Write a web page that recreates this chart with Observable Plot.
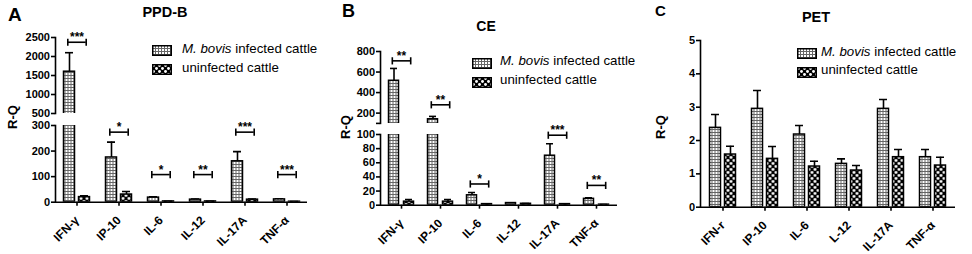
<!DOCTYPE html>
<html><head><meta charset="utf-8">
<script src="https://cdn.jsdelivr.net/npm/d3@7"></script>
<script src="https://cdn.jsdelivr.net/npm/@observablehq/plot@0.6"></script>
<style>
body{margin:0;background:#fff;font-family:"Liberation Sans",Arial,sans-serif;}
#root{position:relative;width:972px;height:254px;overflow:hidden;background:#fff;color:#000;}
.abs{position:absolute;white-space:nowrap;line-height:1;}
</style></head><body>
<svg width="0" height="0" style="position:absolute">
<defs>
<pattern id="patInf" width="3" height="3" patternUnits="userSpaceOnUse">
<rect width="3" height="3" fill="#666"/><rect x="1" y="1" width="2" height="2" fill="#fff"/>
</pattern>
<pattern id="patUn" width="6" height="6" patternUnits="userSpaceOnUse">
<rect width="6" height="6" fill="#000"/><circle cx="1.5" cy="1.5" r="1.45" fill="#fff"/><circle cx="4.5" cy="4.5" r="1.45" fill="#fff"/>
</pattern>
</defs></svg>
<div id="root"></div>
<script>
// ---------- data ----------
const seriesNames = ["M. bovis infected cattle", "uninfected cattle"];
const categoriesAB = ["IFN-γ", "IP-10", "IL-6", "IL-12", "IL-17A", "TNF-α"];
const categoriesC = ["IFN-r", "IP-10", "IL-6", "L-12", "IL-17A", "TNF-α"];

// Panel A: PPD-B
const infectedA = [1600, 175, 18, 10, 160, 11];
const infectedErrA = [500, 60, 3, 2, 38, 2];
const uninfectedA = [20, 30, 3, 3, 10, 2];
const uninfectedErrA = [5, 12, 1, 1, 2, 0.5];
const sigA = ["***", "*", "*", "**", "***", "***"];
const sigYA = [2375, 274, 108, 108, 274, 108];
const ticksATop = [500, 1000, 1500, 2000, 2500];
const ticksABottom = [0, 100, 200, 300];

// Panel B: CE
const infectedB = [515, 140, 14, 3, 70, 9];
const infectedErrB = [120, 28, 4, 0.5, 17, 1.5];
const uninfectedB = [5, 5, 1.5, 2, 1.5, 0.8];
const uninfectedErrB = [3, 3, 0.3, 0.3, 0.4, 0.2];
const sigB = ["**", "**", "*", "", "***", "**"];
const sigYB = [709, 281, 30, null, 99, 28];
const ticksBTop = [100, 200, 400, 600, 800];
const ticksBBottom = [0, 20, 40, 60, 80, 100];

// Panel C: PET
const infectedC = [2.38, 2.95, 2.18, 1.3, 2.95, 1.5];
const infectedErrC = [0.4, 0.55, 0.27, 0.15, 0.28, 0.23];
const uninfectedC = [1.58, 1.45, 1.22, 1.1, 1.5, 1.25];
const uninfectedErrC = [0.25, 0.37, 0.16, 0.15, 0.23, 0.25];
const ticksC = [0, 1, 2, 3, 4, 5];

// ---------- drawing ----------
const root = document.getElementById("root");
const FONT = '"Liberation Sans", Arial, sans-serif';
const vbar = {draw(ctx, size) { const r = Math.sqrt(size / Math.PI); ctx.moveTo(0, -r); ctx.lineTo(0, r); }};

function segment(o) {
  const marginLeft = o.axisX - o.panelLeft;
  const marginRight = o.width - (o.axisRight - o.panelLeft);
  const height = o.mt + (o.yBottom - o.yTop) + o.mb;
  const step = (o.axisRight - o.axisX) / o.cats.length;
  const pi = 0.74;
  const bw = step * (1 - pi);
  const H = 9.2;
  const inf = o.cats.map((c, i) => ({cat: c, value: o.inf[i], top: o.inf[i] + o.infErr[i]}));
  const un = o.cats.map((c, i) => ({cat: c, value: o.un[i], top: o.un[i] + o.unErr[i]}));
  const [d0, d1] = o.domain;
  const sig = o.sig ? o.cats.map((c, i) => ({cat: c, stars: o.sig[i], y: o.sigY[i]}))
      .filter(d => d.y != null && d.y >= d0 && d.y <= d1) : [];
  const marks = [];
  for (const [rows, pat, dx] of [[inf, "url(#patInf)", -7.5], [un, "url(#patUn)", 7.5]]) {
    marks.push(
      Plot.ruleX(rows, {x: "cat", y1: "value", y2: "top", dx, stroke: "black", strokeWidth: 1.6, clip: true}),
      Plot.tickY(rows, {x: "cat", y: "top", dx, insetLeft: 1.5, insetRight: 1.5, stroke: "black", strokeWidth: 1.6, clip: true}),
      Plot.barY(rows, {x: "cat", y: "value", dx, fill: pat, stroke: "black", strokeWidth: 1.5, clip: true})
    );
  }
  if (sig.length) {
    marks.push(
      Plot.tickY(sig, {x: "cat", y: "y", insetLeft: bw / 2 - H, insetRight: bw / 2 - H, stroke: "black", strokeWidth: 1.6}),
      Plot.dot(sig, {x: "cat", y: "y", dx: -H, symbol: vbar, r: 3.6, stroke: "black", strokeWidth: 1.6}),
      Plot.dot(sig, {x: "cat", y: "y", dx: H, symbol: vbar, r: 3.6, stroke: "black", strokeWidth: 1.6}),
      Plot.text(sig, {x: "cat", y: "y", text: "stars", lineAnchor: "bottom", dy: -1, fontSize: 12, fontWeight: "bold", fill: "black"})
    );
  }
  marks.push(
    Plot.axisY({ticks: o.ticks, tickFormat: o.tickFormat || (d => String(d)), tickSize: 4, tickPadding: 1.5,
      fontSize: 11, fontWeight: "bold", strokeWidth: 1.6, label: null}),
    Plot.frame({anchor: "left", strokeWidth: 1.6})
  );
  if (o.xAxis) {
    marks.push(
      Plot.ruleY([d0], {strokeWidth: 1.6}),
      Plot.axisX({tickRotate: -45, tickSize: 4, tickPadding: 12, fontSize: 12, fontWeight: "bold", strokeWidth: 1.6, label: null})
    );
  }
  const svg = Plot.plot({
    width: o.width, height, marginLeft, marginRight, marginTop: o.mt, marginBottom: o.mb,
    x: {type: "band", domain: o.cats, paddingInner: pi, paddingOuter: pi / 2, axis: null},
    y: {domain: o.domain, axis: null},
    style: {background: "transparent", overflow: "visible", fontFamily: FONT, color: "black"},
    marks
  });
  svg.style.position = "absolute";
  svg.style.left = o.panelLeft + "px";
  svg.style.top = (o.yTop - o.mt) + "px";
  root.appendChild(svg);
}

function text(str, x, y, css) {
  const d = document.createElement("div");
  d.className = "abs";
  d.innerHTML = str;
  d.style.left = x + "px"; d.style.top = y + "px";
  Object.assign(d.style, css);
  root.appendChild(d);
  return d;
}

function legend(x, y0, gap, textX) {
  const pats = ["patInf", "patUn"];
  seriesNames.forEach((name, i) => {
    const y = y0 + i * gap;
    text(`<svg width="20" height="11"><rect x="0.75" y="0.75" width="18.5" height="9.5" fill="url(#${pats[i]})" stroke="black" stroke-width="1.5"/></svg>`, x, y - 5.5, {});
    const label = name.replace("M. bovis", "<i>M. bovis</i>");
    text(label, textX, y, {fontSize: "13.3px", transform: "translateY(-50%)"});
  });
}

function ylabel(cx, cy) {
  text("R-Q", cx, cy, {fontSize: "13px", fontWeight: "bold", transform: "translate(-50%,-50%) rotate(-90deg)"});
}
function title(str, cx, baseline, size) {
  text(str, cx, baseline - size * 0.9, {fontSize: size + "px", fontWeight: "bold", transform: "translateX(-50%)"});
}
function letter(str, x, baseline, size) {
  text(str, x, baseline - size * 0.9, {fontSize: size + "px", fontWeight: "bold"});
}

// Panel A
const A = {panelLeft: 0, width: 320, axisX: 55, axisRight: 307, cats: categoriesAB,
  inf: infectedA, infErr: infectedErrA, un: uninfectedA, unErr: uninfectedErrA, sig: sigA, sigY: sigYA};
segment({...A, yTop: 37.3, yBottom: 113.3, domain: [500, 2500], ticks: ticksATop, mt: 16, mb: 3, xAxis: false});
segment({...A, yTop: 125, yBottom: 201.7, domain: [0, 300], ticks: ticksABottom, mt: 12, mb: 52.3, xAxis: true});
letter("A", 8, 21.7, 19);
title("PPD-B", 165, 18.3, 14.5);
ylabel(12, 117);
legend(152, 48.7, 19, 182);

// Panel B
const B = {panelLeft: 322, width: 310, axisX: 380, axisRight: 617, cats: categoriesAB,
  inf: infectedB, infErr: infectedErrB, un: uninfectedB, unErr: uninfectedErrB, sig: sigB, sigY: sigYB};
segment({...B, yTop: 50.7, yBottom: 122.6, domain: [100, 800], ticks: ticksBTop, tickFormat: d => d === 100 ? "" : String(d), mt: 16, mb: 3, xAxis: false});
segment({...B, yTop: 134.3, yBottom: 205, domain: [0, 100], ticks: ticksBBottom, mt: 12, mb: 49, xAxis: true});
letter("B", 342, 18.3, 18);
title("CE", 486, 31.7, 14);
ylabel(345, 127);
legend(471.5, 61.3, 19, 500);

// Panel C
const C = {panelLeft: 650, width: 322, axisX: 700, axisRight: 955, cats: categoriesC,
  inf: infectedC, infErr: infectedErrC, un: uninfectedC, unErr: uninfectedErrC, sig: null};
segment({...C, yTop: 40, yBottom: 206.7, domain: [0, 5], ticks: ticksC, mt: 10, mb: 47.3, xAxis: true});
letter("C", 655, 16.7, 15);
title("PET", 816, 23.3, 14.5);
ylabel(660, 127);
legend(796.5, 51.7, 18.5, 821);
</script>
</body></html>
